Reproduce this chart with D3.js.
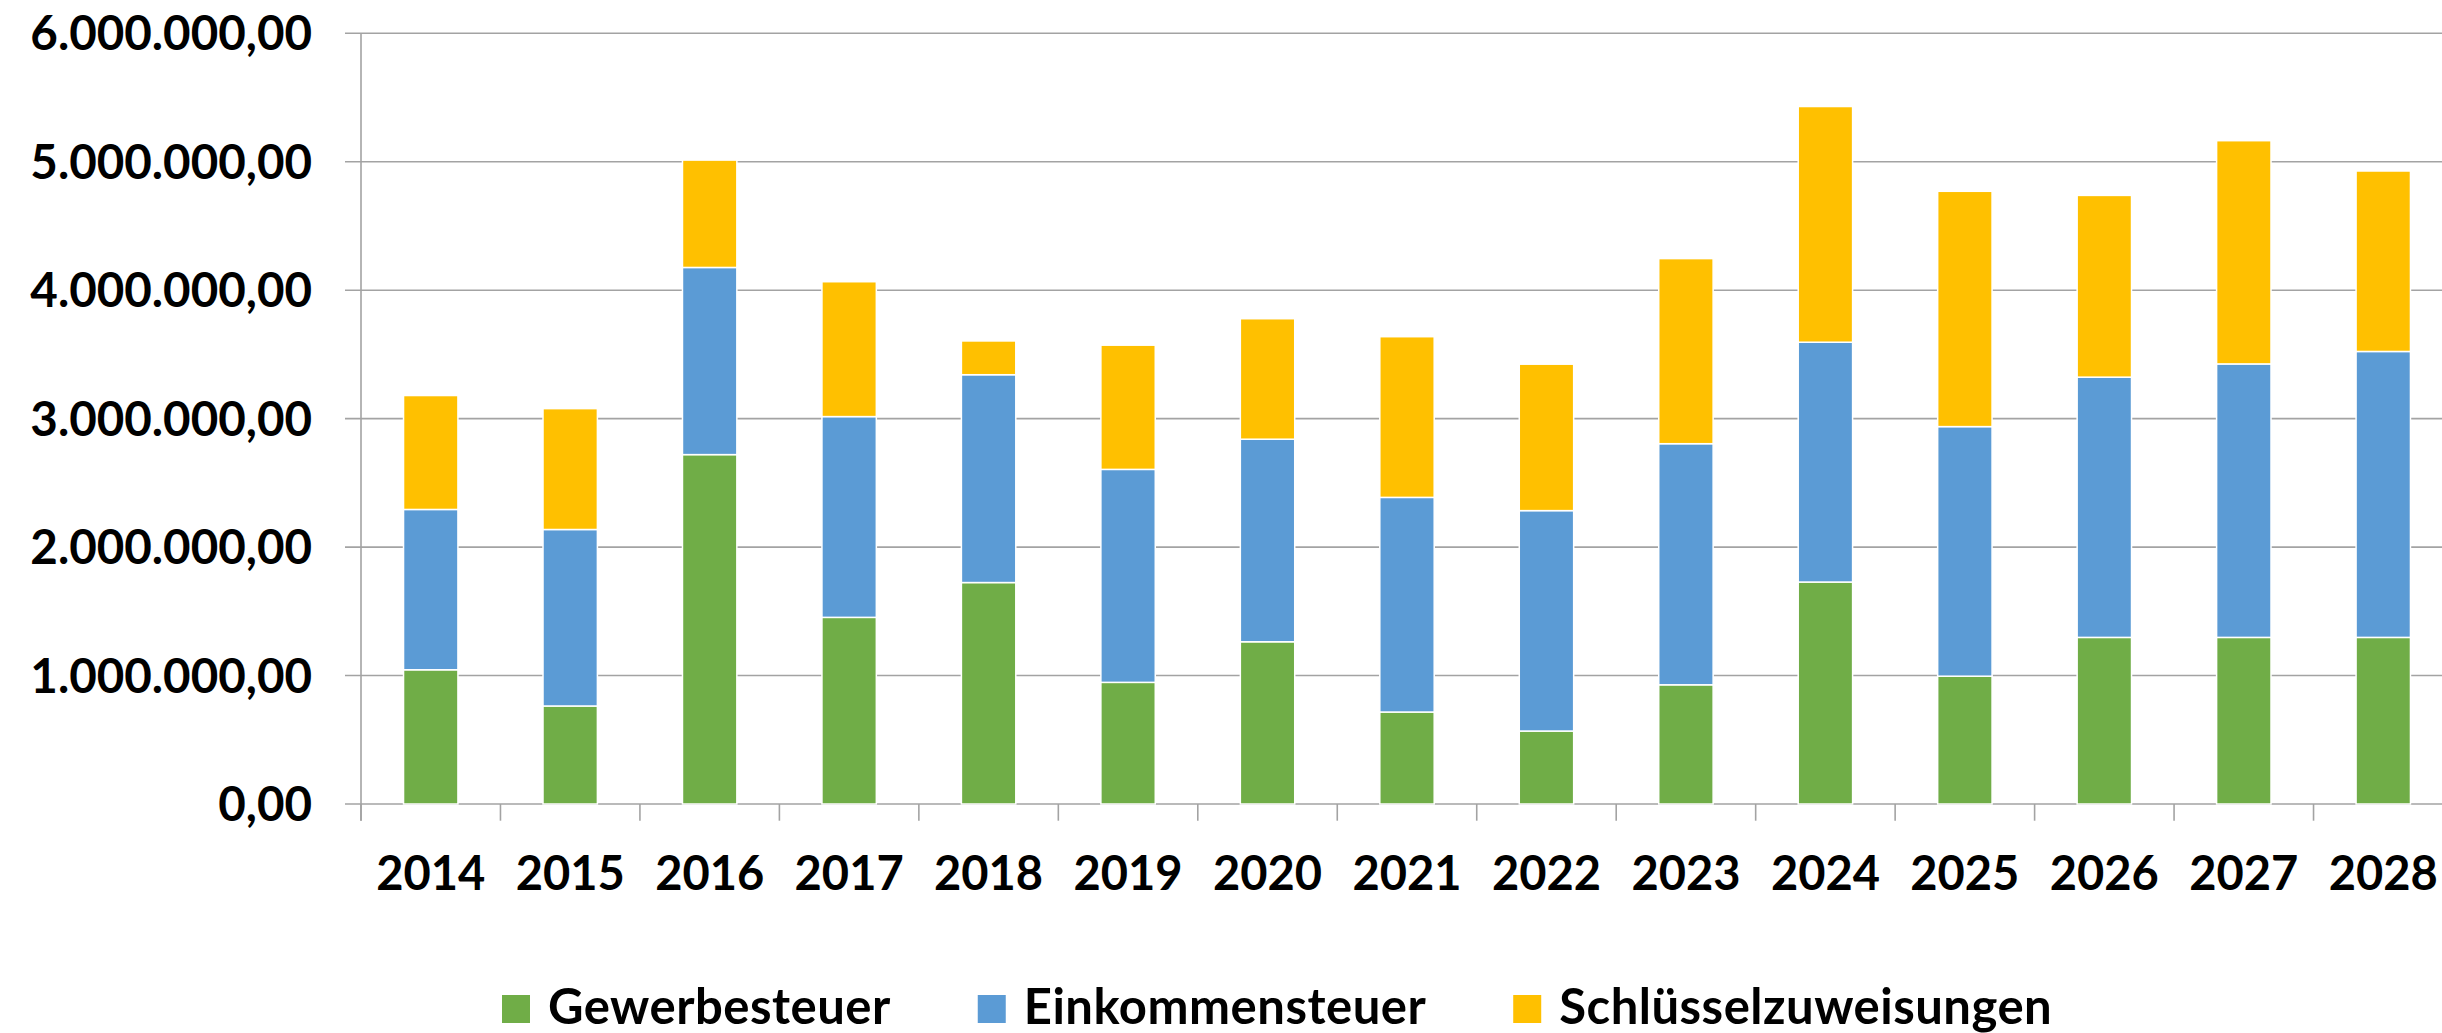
<!DOCTYPE html>
<html>
<head>
<meta charset="utf-8">
<script src="https://cdn.jsdelivr.net/npm/d3@7"></script>
<style>
  html, body { margin: 0; padding: 0; background: #fff; }
  svg { display: block; }
  text { font-family: Lato, "Open Sans", sans-serif; font-weight: 700; fill: #000; }
</style>
</head>
<body>
<svg id="chart" width="2442" height="1033"></svg>
<script>
const years = ["2014","2015","2016","2017","2018","2019","2020","2021","2022","2023","2024","2025","2026","2027","2028"];
const seriesNames = ["Gewerbesteuer", "Einkommensteuer", "Schlüsselzuweisungen"];
const gewerbesteuer = [1045000, 763000, 2720000, 1453000, 1724000, 947000, 1263000, 716000, 568000, 928000, 1728000, 995000, 1297000, 1297000, 1297000];
const einkommensteuer = [1248000, 1374000, 1457000, 1563000, 1618000, 1658000, 1577000, 1671000, 1716000, 1877000, 1867000, 1943000, 2026000, 2129000, 2226000];
const schluesselzuweisungen = [887000, 941000, 836000, 1050000, 263000, 967000, 938000, 1251000, 1140000, 1441000, 1835000, 1832000, 1415000, 1738000, 1405000];
const yTicks = [0, 1000000, 2000000, 3000000, 4000000, 5000000, 6000000];
const colors = ["#70AD47", "#5B9BD5", "#FFC000"];

(function () {
const svg = d3.select("#chart");
const W = 2442;
const plotLeft = 361, plotRight = 2453, plotTop = 33.3, plotBottom = 804;
const gridColor = "#a3a3a3";

const rows = years.map((yr, i) => ({
  year: yr,
  Gewerbesteuer: gewerbesteuer[i],
  Einkommensteuer: einkommensteuer[i],
  "Schlüsselzuweisungen": schluesselzuweisungen[i]
}));
const stack = d3.stack().keys(seriesNames)(rows);

const x = d3.scaleBand().domain(years).range([plotLeft, plotRight]).paddingInner(0.61).paddingOuter(0.305);
const y = d3.scaleLinear().domain([0, 6000000]).range([plotBottom, plotTop]);

const de = d3.formatLocale({ decimal: ",", thousands: ".", grouping: [3], currency: ["", " €"] });
const fmt = de.format(",.2f");

// gridlines
svg.append("g").selectAll("line").data(yTicks).join("line")
  .attr("x1", plotLeft - 16).attr("x2", W)
  .attr("y1", d => y(d)).attr("y2", d => y(d))
  .attr("stroke", gridColor).attr("stroke-width", 1.6);

// y axis line
svg.append("line").attr("x1", plotLeft).attr("x2", plotLeft)
  .attr("y1", y(6000000)).attr("y2", plotBottom + 16.7)
  .attr("stroke", gridColor).attr("stroke-width", 1.6);

// x axis ticks at band boundaries
const step = x.step();
const bounds = d3.range(years.length + 1).map(i => plotLeft + i * step);
svg.append("g").selectAll("line").data(bounds).join("line")
  .attr("x1", d => d).attr("x2", d => d)
  .attr("y1", plotBottom).attr("y2", plotBottom + 16.7)
  .attr("stroke", gridColor).attr("stroke-width", 1.6);

// bars
svg.append("g").selectAll("g").data(stack).join("g")
  .attr("fill", (d, i) => colors[i])
  .selectAll("rect").data(d => d).join("rect")
  .attr("x", d => x(d.data.year))
  .attr("width", x.bandwidth())
  .attr("y", d => y(d[1]))
  .attr("height", d => y(d[0]) - y(d[1]))
  .attr("stroke", "#fff").attr("stroke-width", 1.5);

// y labels
svg.append("g").selectAll("text").data(yTicks).join("text")
  .attr("x", 312).attr("y", d => y(d))
  .attr("dy", "0.36em")
  .attr("text-anchor", "end")
  .attr("font-size", 47.5)
  .text(d => fmt(d));

// x labels
svg.append("g").selectAll("text").data(years).join("text")
  .attr("x", d => x(d) + x.bandwidth() / 2).attr("y", 890)
  .attr("text-anchor", "middle")
  .attr("font-size", 47)
  .text(d => d);

// legend
const lg = svg.append("g");
let cx = 502;
seriesNames.forEach((name, i) => {
  lg.append("rect").attr("x", cx).attr("y", 995).attr("width", 28).attr("height", 28).attr("fill", colors[i]);
  const t = lg.append("text").attr("x", cx + 46).attr("y", 1024)
    .attr("font-size", 49).attr("letter-spacing", 0.5).text(name);
  const w = t.node().getComputedTextLength();
  cx = cx + 46 + w + 87;
});
})();
</script>
</body>
</html>
